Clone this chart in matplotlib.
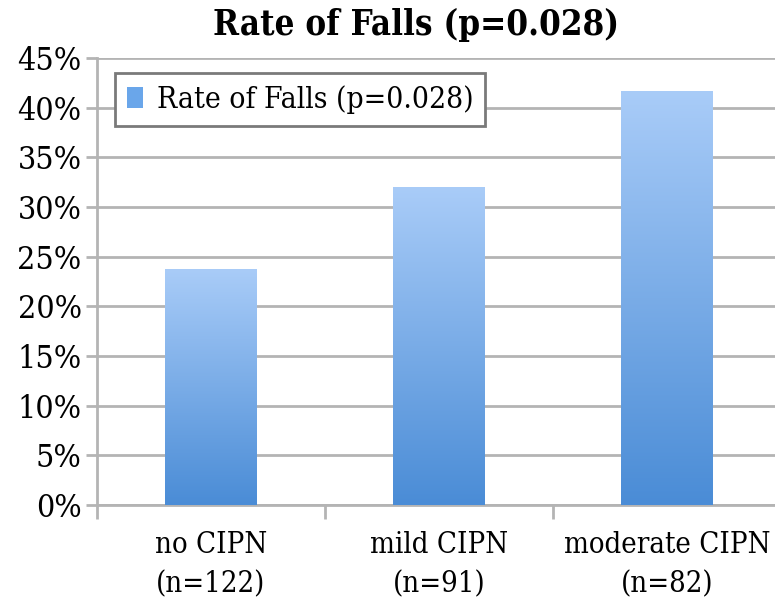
import matplotlib
matplotlib.use('Agg')
import matplotlib.pyplot as plt
import numpy as np
from matplotlib.colors import LinearSegmentedColormap
from matplotlib.patches import Patch

# data
categories = ['no CIPN\n(n=122)', 'mild CIPN\n(n=91)', 'moderate CIPN\n(n=82)']
fall_rates = [23.7, 32.0, 41.6]
series_label = 'Rate of Falls (p=0.028)'
chart_title = 'Rate of Falls (p=0.028)'
y_ticks = [0, 5, 10, 15, 20, 25, 30, 35, 40, 45]

font = ['DejaVu Serif']
grid_gray = '#b4b4b4'
bar_cmap = LinearSegmentedColormap.from_list('bar', ['#4a8cd6', '#a9ccf8'])

fig = plt.figure(figsize=(7.75, 6.1), dpi=100)
ax = fig.add_axes([97 / 775, 1 - 505 / 610, (781 - 97) / 775, (505 - 58) / 610])

x = np.arange(len(categories))
bars = ax.bar(x, fall_rates, width=0.4, color='none', zorder=3)

# vertical gradient inside each bar
grad = np.linspace(0, 1, 256).reshape(-1, 1)
for b in bars:
    x0, w, h = b.get_x(), b.get_width(), b.get_height()
    ax.imshow(grad, extent=[x0, x0 + w, 0, h], origin='lower', aspect='auto',
              cmap=bar_cmap, zorder=3, interpolation='bicubic')

ax.set_xlim(-0.5, len(categories) - 0.5)
ax.set_ylim(0, 45)
ax.set_yticks(y_ticks)
ax.set_yticklabels([f'{t}%' for t in y_ticks], family=font, fontstretch='condensed', fontsize=23)
ax.set_xticks(x)
ax.set_xticklabels(categories, family=font, fontstretch='condensed', fontsize=21, linespacing=1.5)
ax.set_xticks(np.arange(len(categories) + 1) - 0.5, minor=True)
ax.tick_params(axis='x', which='major', length=0, pad=19)
ax.tick_params(axis='x', which='minor', length=10, width=2, color=grid_gray)
ax.tick_params(axis='y', length=8, width=2, color=grid_gray, pad=3)

ax.grid(axis='y', color=grid_gray, linewidth=2, zorder=0)
ax.set_axisbelow(True)
for s in ['top', 'right']:
    ax.spines[s].set_visible(False)
for s in ['left', 'bottom']:
    ax.spines[s].set_color(grid_gray)
    ax.spines[s].set_linewidth(2)

handle = Patch(facecolor='#6aa6ea', edgecolor='none')
leg = ax.legend([handle], [series_label], loc='upper left',
                bbox_to_anchor=((115 - 97) / 684, (505 - 73) / 447), borderaxespad=0,
                fancybox=False, framealpha=1, handlelength=0.55, handleheight=0.7,
                handletextpad=0.45, borderpad=0.4,
                prop={'family': font, 'stretch': 'condensed', 'size': 21.5})
leg.get_frame().set_edgecolor('#7a7a7a')
leg.get_frame().set_linewidth(2)

fig.text(416 / 775, 1 - 25 / 610, chart_title, ha='center', va='center',
         family=font, fontstretch='condensed', fontweight='bold', fontsize=25)

fig.savefig('out.png', dpi=100)
